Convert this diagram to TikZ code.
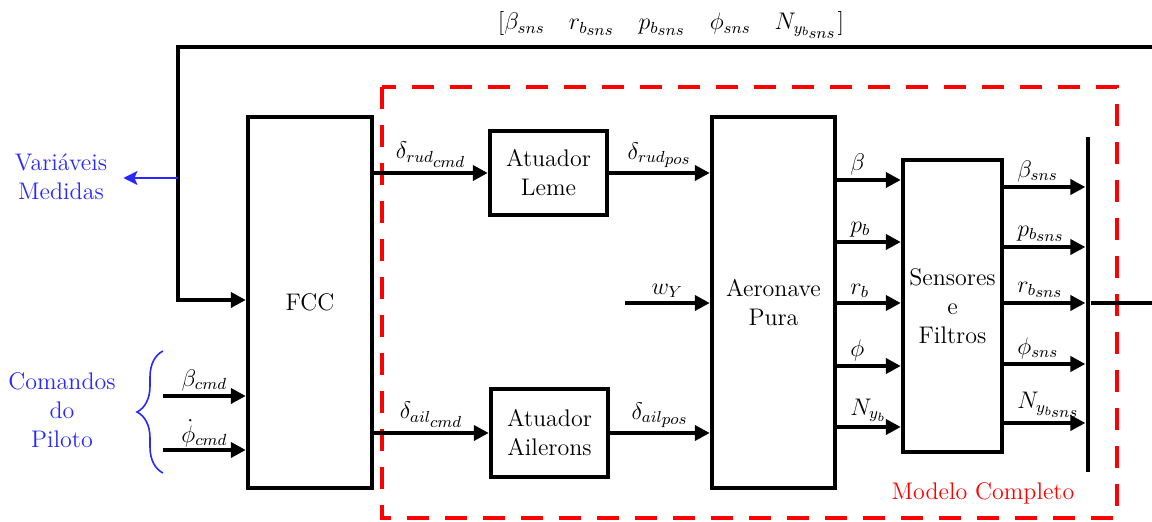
\documentclass[tikz,border=0pt]{standalone}
\usepackage{amsmath}
\usetikzlibrary{arrows.meta,positioning,calc,decorations.pathreplacing}
\definecolor{cmdblue}{RGB}{40,40,255}
\definecolor{mdlred}{RGB}{255,0,0}
\newcommand{\sub}[1]{{\scriptstyle #1}}

\begin{document}
\begin{tikzpicture}[
  x=0.5pt, y=-0.5pt,
  font=\fontsize{12}{14.5}\selectfont,
  blk/.style={draw, line width=2.2pt, align=center, inner sep=0pt},
  lbl/.style={inner sep=1.5pt},
  ar/.style={-{Triangle[length=7.5pt,width=7.5pt]}, line width=2.2pt},
  bar/.style={-{Stealth[length=7pt,width=7pt,inset=1.5pt]}, line width=0.8pt, draw=cmdblue, fill=cmdblue},
  mdl/.style={draw=mdlred, line width=2.2pt, dash pattern=on 11pt off 8pt},
  note/.style={align=center, text=cmdblue},
  brc/.style={draw=cmdblue, line width=0.8pt, decorate, decoration={brace, amplitude=13pt}}
]
\useasboundingbox (0,0) rectangle (1152,522);

% --- frame of the complete model ----------------------------------------
\draw[mdl] (382,87) rectangle (1117,518);
\node[text=mdlred] (mdllbl) at (983,493) {Modelo Completo};

% --- blocks ---------------------------------------------------------------
\node[blk, minimum width=62pt, minimum height=185.5pt] (fcc) at (310,302.5) {FCC};
\node[blk, minimum width=58.5pt, minimum height=42pt] (leme) at (548.5,173) {Atuador\\Leme};
\node[blk, minimum width=58.5pt, minimum height=44pt] (ail) at (549.5,433) {Atuador\\Ailerons};
\node[blk, minimum width=61.5pt, minimum height=185.5pt] (aero) at (773.5,302.5) {Aeronave\\Pura};
\node[blk, minimum width=49.5pt, minimum height=146pt] (sens) at (952.5,306) {Sensores\\e\\Filtros};
\node[fill, minimum width=2.2pt, minimum height=167.5pt, inner sep=0pt] (bus) at (1088,304.5) {};

% --- feedback of the sensed variables -------------------------------------
\coordinate (fbR) at (1152,47);
\coordinate (fbL) at (178,300);
\coordinate (tap) at (178,178);
\draw[ar] (fbR) -| (fbL) -- (fcc.west |- fbL);
\node (fblbl) at (671,25)
  {$[\beta_{sns}\quad r_{b_{\sub{sns}}}\quad p_{b_{\sub{sns}}}\quad \phi_{sns}\quad N_{y_{b_{\sub{sns}}}}]$};

\node[note, inner xsep=8pt] (varmed) at (61,177) {Variáveis\\Medidas};
\draw[bar] (tap) -- (varmed.east |- tap);

% --- pilot commands ---------------------------------------------------------
\node[note] (cmd) at (62,410) {Comandos\\do\\Piloto};
\coordinate (brB) at (163,473);
\coordinate (brT) at (163,351);
\draw[brc] (brB) -- (brT);
\coordinate (bcmd) at (163,396);
\coordinate (pcmd) at (163,450);
\draw[ar] (bcmd) -- node[lbl, above] {$\beta_{cmd}$} (fcc.west |- bcmd);
\draw[ar] (pcmd) -- node[lbl, above, inner ysep=0.5pt] {$\dot{\phi}_{cmd}$} (fcc.west |- pcmd);

% --- actuators --------------------------------------------------------------
\draw[ar] (fcc.east |- leme) -- node[lbl, above] {$\delta_{rud_{\sub{cmd}}}$} (leme);
\draw[ar] (leme) -- node[lbl, above] {$\delta_{rud_{\sub{pos}}}$} (aero.west |- leme);
\draw[ar] (fcc.east |- ail) -- node[lbl, above] {$\delta_{ail_{\sub{cmd}}}$} (ail);
\draw[ar] (ail) -- node[lbl, above] {$\delta_{ail_{\sub{pos}}}$} (aero.west |- ail);

\coordinate (wy) at (625,303);
\draw[ar] (wy) -- node[lbl, above] {$w_Y$} (aero.west |- wy);

% --- aircraft outputs into the sensors --------------------------------------
\foreach \y/\lab in {180/\beta, 242/p_b, 303/r_b, 366/\phi, 427/N_{y_b}}{
  \draw[ar] (aero.east |- 0,\y) -- node[lbl, pos=0, anchor=south west, xshift=4pt] {$\lab$} (sens.west |- 0,\y);
}

% --- sensed outputs onto the bus --------------------------------------------
\foreach \y/\lab in {187/\beta_{sns}, 247/p_{b_{\sub{sns}}}, 303/r_{b_{\sub{sns}}}, 364/\phi_{sns}, 423/N_{y_{b_{\sub{sns}}}}}{
  \draw[ar] (sens.east |- 0,\y) -- node[lbl, pos=0, anchor=south west, xshift=4pt] {$\lab$} (bus.west |- 0,\y);
}
\coordinate (outR) at (1152,303);
\draw[line width=2.2pt] (bus.east |- outR) -- (outR);

\end{tikzpicture}
\end{document}
